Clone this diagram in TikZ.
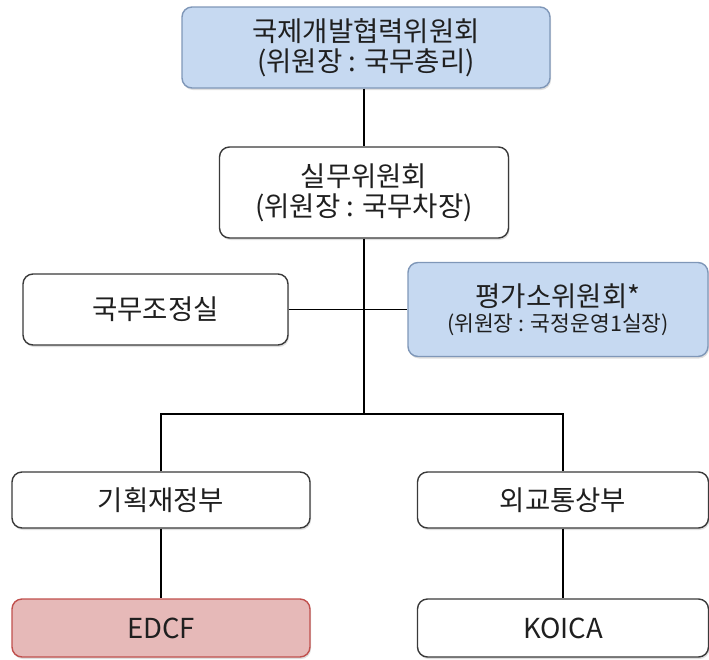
\documentclass[tikz,border=0pt]{standalone}
\usepackage{fontspec}
\setmainfont{Noto Sans CJK KR}
\usetikzlibrary{shadows}
\definecolor{txt}{HTML}{1F1F1F}
\definecolor{bluefill}{HTML}{C6D9F1}
\definecolor{blueline}{HTML}{7F97B8}
\definecolor{redfill}{HTML}{E6B9B8}
\definecolor{redline}{HTML}{C0504D}
\definecolor{boxline}{HTML}{3A3A3A}
\tikzset{
  box/.style={draw=boxline, line width=1.4pt, fill=white, rounded corners=10pt,
    text=txt, align=center, inner sep=0pt, font=\fontsize{27.5}{30}\selectfont,
    drop shadow={shadow xshift=1pt, shadow yshift=-2pt, opacity=0.25}},
  bluebox/.style={box, draw=blueline, fill=bluefill},
  redbox/.style={box, draw=redline, fill=redfill},
  conn/.style={draw=black, line width=1.1pt}
}
\begin{document}
\begin{tikzpicture}[x=1pt,y=-1pt]
\useasboundingbox (0,0) rectangle (709,659);
\node[bluebox, minimum width=368pt, minimum height=81pt] (top) at (366,47.5)
  {국제개발협력위원회\\(위원장 : 국무총리)};
\node[box, minimum width=289pt, minimum height=91pt] (work) at (364,192.5)
  {실무위원회\\(위원장 : 국무차장)};
\node[box, minimum width=265pt, minimum height=71pt] (jo) at (155.5,309.5)
  {국무조정실};
\node[bluebox, minimum width=300pt, minimum height=94pt] (pg) at (558,309.5)
  {평가소위원회*\\[-5pt]{\fontsize{21.5}{24}\selectfont (위원장 : 국정운영1실장)}};
\node[box, minimum width=298pt, minimum height=56pt] (gi) at (161,500)
  {기획재정부};
\node[box, minimum width=291pt, minimum height=56pt] (oe) at (563,500)
  {외교통상부};
\node[redbox, minimum width=298pt, minimum height=58pt] (edcf) at (161,628)
  {EDCF};
\node[box, minimum width=291pt, minimum height=58pt] (koica) at (563,628)
  {KOICA};
\coordinate (bus) at (364,414);
\draw[conn] (top.south -| work.north) -- (work.north);
\draw[conn] (work.south) -- (bus);
\draw[conn] (jo.east) -- (jo.east -| pg.west);
\draw[conn] (gi.north) |- (bus) -| (oe.north);
\draw[conn] (gi.south) -- (edcf.north);
\draw[conn] (oe.south) -- (koica.north);
\end{tikzpicture}
\end{document}
